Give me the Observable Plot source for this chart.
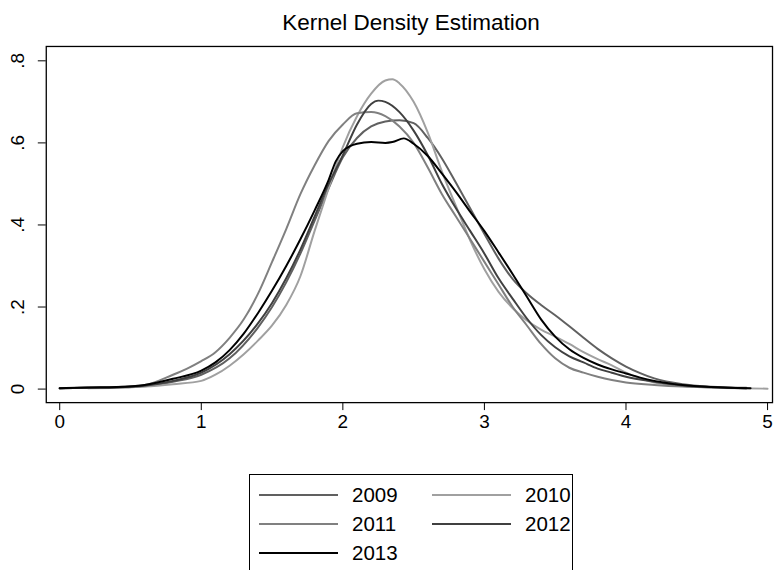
<!DOCTYPE html>
<html>
<head>
<meta charset="utf-8">
<script src="https://cdn.jsdelivr.net/npm/d3@7"></script>
<script src="https://cdn.jsdelivr.net/npm/@observablehq/plot@0.6"></script>
<style>
html, body { margin: 0; padding: 0; background: #fff; overflow: hidden; width: 776px; height: 570px; }
body { position: relative; font-family: "Liberation Sans", Arial, sans-serif; color: #000; }
#title { position: absolute; left: 46px; width: 730px; top: 12px; text-align: center; font-size: 22.5px; line-height: 1; white-space: nowrap; }
#chart { position: absolute; left: 0; top: 40px; }
#legend { position: absolute; left: 249px; top: 474px; width: 324px; height: 110px; border: 1px solid #000; box-sizing: border-box; }
.lg-line { position: absolute; width: 79px; height: 0; border-top: 2px solid #000; }
.lg-text { position: absolute; font-size: 20.5px; line-height: 1; }
</style>
</head>
<body>
<div id="title">Kernel Density Estimation</div>
<div id="chart"></div>
<div id="legend"></div>
<script>
// ---- data ----
const years = ["2009", "2010", "2011", "2012", "2013"];
const colors = ["#606060", "#a0a0a0", "#808080", "#404040", "#000000"];

const x2009 = [0, 0.2, 0.4, 0.6, 0.8, 1.0, 1.2, 1.4, 1.5, 1.6, 1.7, 1.8, 1.9, 2.0, 2.1, 2.2, 2.3, 2.4, 2.5, 2.6, 2.7, 2.8, 2.9, 3.0, 3.1, 3.2, 3.3, 3.4, 3.5, 3.6, 3.7, 3.8, 3.9, 4.0, 4.1, 4.2, 4.4, 4.6, 4.85];
const y2009 = [0.002, 0.003, 0.004, 0.007, 0.018, 0.035, 0.075, 0.15, 0.2, 0.26, 0.33, 0.41, 0.49, 0.565, 0.612, 0.64, 0.652, 0.655, 0.648, 0.612, 0.562, 0.502, 0.44, 0.378, 0.318, 0.268, 0.233, 0.205, 0.18, 0.153, 0.125, 0.098, 0.075, 0.055, 0.039, 0.026, 0.012, 0.006, 0.003];

const x2010 = [0.2, 0.4, 0.6, 0.8, 1.0, 1.1, 1.2, 1.3, 1.4, 1.5, 1.6, 1.7, 1.8, 1.9, 2.0, 2.1, 2.2, 2.3, 2.35, 2.4, 2.5, 2.6, 2.7, 2.8, 2.9, 3.0, 3.1, 3.2, 3.3, 3.4, 3.5, 3.6, 3.7, 3.8, 3.9, 4.0, 4.1, 4.2, 4.4, 4.6, 4.8, 5.0];
const y2010 = [0.002, 0.003, 0.006, 0.012, 0.02, 0.035, 0.057, 0.085, 0.118, 0.155, 0.205, 0.275, 0.385, 0.49, 0.59, 0.665, 0.72, 0.752, 0.755, 0.745, 0.70, 0.625, 0.53, 0.445, 0.362, 0.292, 0.237, 0.197, 0.167, 0.145, 0.128, 0.11, 0.09, 0.073, 0.058, 0.04, 0.026, 0.016, 0.008, 0.004, 0.002, 0.001];

const x2011 = [0, 0.2, 0.4, 0.6, 0.8, 0.9, 1.0, 1.1, 1.2, 1.3, 1.4, 1.5, 1.6, 1.7, 1.8, 1.9, 2.0, 2.1, 2.2, 2.3, 2.4, 2.5, 2.6, 2.7, 2.8, 2.9, 3.0, 3.1, 3.2, 3.3, 3.4, 3.5, 3.6, 3.7, 3.8, 3.9, 4.0, 4.2, 4.4, 4.6, 4.85];
const y2011 = [0.002, 0.003, 0.005, 0.01, 0.035, 0.05, 0.068, 0.09, 0.125, 0.17, 0.232, 0.31, 0.39, 0.475, 0.545, 0.605, 0.645, 0.672, 0.675, 0.665, 0.64, 0.60, 0.54, 0.475, 0.42, 0.365, 0.31, 0.255, 0.2, 0.155, 0.11, 0.075, 0.052, 0.04, 0.03, 0.022, 0.016, 0.01, 0.006, 0.004, 0.002];

const x2012 = [0, 0.2, 0.4, 0.6, 0.8, 1.0, 1.2, 1.4, 1.5, 1.6, 1.7, 1.8, 1.9, 2.0, 2.1, 2.2, 2.25, 2.3, 2.4, 2.5, 2.6, 2.7, 2.8, 2.9, 3.0, 3.1, 3.2, 3.3, 3.4, 3.5, 3.6, 3.7, 3.8, 3.9, 4.0, 4.2, 4.4, 4.6, 4.85];
const y2012 = [0.002, 0.003, 0.004, 0.008, 0.02, 0.04, 0.085, 0.16, 0.21, 0.27, 0.34, 0.42, 0.50, 0.57, 0.645, 0.695, 0.703, 0.70, 0.675, 0.63, 0.57, 0.50, 0.44, 0.385, 0.33, 0.27, 0.22, 0.172, 0.132, 0.102, 0.08, 0.065, 0.05, 0.04, 0.03, 0.018, 0.009, 0.005, 0.002];

const x2013 = [0, 0.2, 0.4, 0.6, 0.8, 1.0, 1.1, 1.2, 1.3, 1.4, 1.5, 1.6, 1.7, 1.8, 1.9, 1.95, 2.0, 2.05, 2.1, 2.2, 2.3, 2.35, 2.43, 2.5, 2.6, 2.7, 2.8, 2.9, 3.0, 3.1, 3.2, 3.3, 3.4, 3.5, 3.6, 3.7, 3.8, 3.9, 4.0, 4.1, 4.2, 4.4, 4.6, 4.88];
const y2013 = [0.002, 0.004, 0.005, 0.01, 0.025, 0.045, 0.065, 0.095, 0.135, 0.185, 0.24, 0.30, 0.365, 0.435, 0.51, 0.555, 0.58, 0.592, 0.598, 0.602, 0.60, 0.602, 0.611, 0.598, 0.568, 0.525, 0.48, 0.432, 0.385, 0.333, 0.28, 0.225, 0.17, 0.128, 0.097, 0.076, 0.06, 0.048, 0.038, 0.028, 0.02, 0.01, 0.005, 0.002];

const xTicks = [0, 1, 2, 3, 4, 5];
const xTickLabels = ["0", "1", "2", "3", "4", "5"];
const yTicks = [0, 0.2, 0.4, 0.6, 0.8];
const yTickLabels = ["0", ".2", ".4", ".6", ".8"];

// ---- build tables ----
const seriesX = [x2009, x2010, x2011, x2012, x2013];
const seriesY = [y2009, y2010, y2011, y2012, y2013];
const tables = years.map((yr, i) => seriesX[i].map((x, j) => ({year: yr, x, y: seriesY[i][j]})));

const chart = Plot.plot({
  width: 780,
  height: 404,
  marginLeft: 46,
  marginRight: 4,
  marginTop: 6,
  marginBottom: 40,
  x: {domain: [-0.095, 5.035]},
  y: {domain: [-0.033, 0.835]},
  style: {fontFamily: "'Liberation Sans', Arial, sans-serif", fontSize: "19px", color: "#000", background: "transparent", overflow: "visible"},
  marks: [
    ...tables.map((t, i) => Plot.line(t, {x: "x", y: "y", stroke: colors[i], strokeWidth: 2, curve: "monotone-x"})),
    Plot.frame({stroke: "#000", strokeWidth: 1.3}),
    Plot.axisX({ticks: xTicks, tickFormat: d => xTickLabels[xTicks.indexOf(d)], tickSize: 8, tickPadding: 4, label: null, fontSize: 19}),
    Plot.axisY({ticks: yTicks, tickFormat: d => yTickLabels[yTicks.indexOf(d)], tickSize: 8, tickPadding: 14, tickRotate: -90, label: null, fontSize: 19})
  ]
});
document.getElementById("chart").appendChild(chart);

// ---- legend ----
const legend = document.getElementById("legend");
const entries = [
  {i: 0, col: 0, row: 0}, {i: 1, col: 1, row: 0},
  {i: 2, col: 0, row: 1}, {i: 3, col: 1, row: 1},
  {i: 4, col: 0, row: 2}
];
const colLine = [9, 182];
const colText = [102, 275];
const rowY = [20, 49, 78];
for (const e of entries) {
  const ln = document.createElement("div");
  ln.className = "lg-line";
  ln.style.left = colLine[e.col] + "px";
  ln.style.top = (rowY[e.row] - 1) + "px";
  ln.style.borderTopColor = colors[e.i];
  legend.appendChild(ln);
  const tx = document.createElement("div");
  tx.className = "lg-text";
  tx.style.left = colText[e.col] + "px";
  tx.style.top = (rowY[e.row] - 10) + "px";
  tx.textContent = years[e.i];
  legend.appendChild(tx);
}
</script>
</body>
</html>
